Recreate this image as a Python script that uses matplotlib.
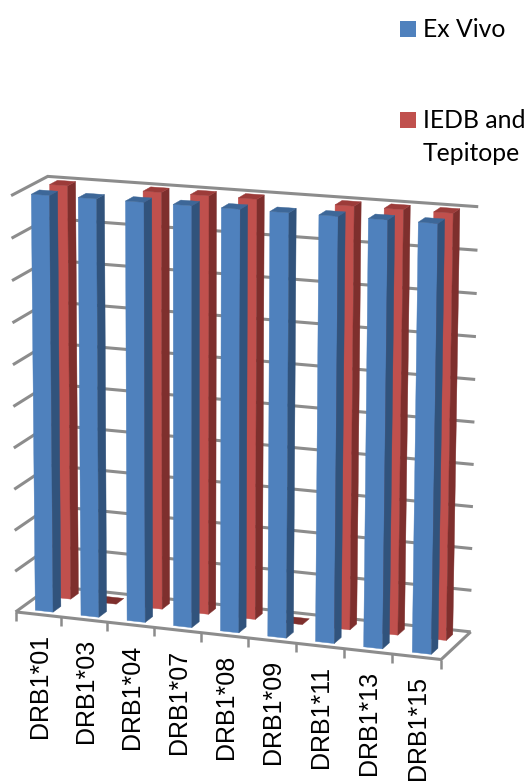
import numpy as np
import matplotlib
matplotlib.use("Agg")
import matplotlib.pyplot as plt
from matplotlib.patches import Polygon

# Chart data
categories = ["DRB1*01", "DRB1*03", "DRB1*04", "DRB1*07", "DRB1*08",
              "DRB1*09", "DRB1*11", "DRB1*13", "DRB1*15"]
ex_vivo = [100, 100, 100, 100, 100, 100, 100, 100, 100]
iedb_tepitope = [100, 0, 100, 100, 100, 0, 100, 100, 100]
value_max = 100
grid_step = 10

W, H = 526, 781
GRID = "#8c8c8c"
BLUE = ("#4F81BD", "#31537C", "#3D6798")   # front, side, top
RED = ("#C0504D", "#7E2F2D", "#9C3B39")

# Perspective camera: (category position, depth, value) -> canvas pixels,
# solved from the box corners and a few axis ticks.
anchors = [
    ((0, 0, 0), (18, 611)), ((9, 0, 0), (441, 661)),
    ((9, 1, 0), (471, 630)), ((0, 1, 0), (48, 587)),
    ((0, 0, 100), (9, 195)), ((0, 1, 100), (50, 177)),
    ((9, 1, 100), (479, 207)), ((9, 0, 100), (447, 227)),
    ((3, 0, 0), (155, 627)), ((6, 0, 0), (295, 644)),
]


def solve_camera(pairs):
    rows, rhs = [], []
    for (a, b, c), (x, y) in pairs:
        rows.append([a, b, c, 1, 0, 0, 0, 0, -x * a, -x * b, -x * c])
        rhs.append(x)
        rows.append([0, 0, 0, 0, a, b, c, 1, -y * a, -y * b, -y * c])
        rhs.append(y)
    p = np.linalg.lstsq(np.array(rows, float), np.array(rhs, float), rcond=None)[0]
    return np.append(p, 1.0).reshape(3, 4)


CAM = solve_camera(anchors)


def project(u, d, v):
    x, y, w = CAM @ np.array([u, d, v, 1.0])
    return x / w, y / w


fig = plt.figure(figsize=(W / 100, H / 100), dpi=100)
ax = fig.add_axes([0, 0, 1, 1])
ax.set_xlim(0, W)
ax.set_ylim(H, 0)
ax.axis("off")


def seg(*pts, lw=2.2):
    xs, ys = zip(*[project(*p) for p in pts])
    ax.plot(xs, ys, color=GRID, lw=lw, solid_capstyle="butt",
            solid_joinstyle="miter", zorder=1)


# Walls and floor
n = len(categories)
for v in range(0, value_max + 1, grid_step):
    seg((0, 0, v), (0, 1, v), (n, 1, v))
seg((0, 0, 0), (n, 0, 0), (n, 1, 0))
for i in range(n + 1):
    x, y = project(i, 0, 0)
    ax.plot([x, x], [y, y + 9], color=GRID, lw=1.8, solid_capstyle="butt", zorder=1)


def bar(i, value, d0, d1, colours, z):
    front, side, top = colours
    u0, u1 = i + 0.33, i + 0.72
    faces = []
    if value > 0:
        faces.append(([(u0, d0, 0), (u1, d0, 0), (u1, d0, value), (u0, d0, value)], front))
        faces.append(([(u1, d0, 0), (u1, d1, 0), (u1, d1, value), (u1, d0, value)], side))
        faces.append(([(u0, d0, value), (u1, d0, value), (u1, d1, value), (u0, d1, value)], top))
    else:
        faces.append(([(u0, d0, 0), (u1, d0, 0), (u1, d1, 0), (u0, d1, 0)], side))
    for pts, colour in faces:
        ax.add_patch(Polygon([project(*p) for p in pts], closed=True, zorder=z,
                             facecolor=colour, edgecolor=colour, lw=0.3))


for i, v in enumerate(iedb_tepitope):
    bar(i, v, 0.63, 0.85, RED, 2)
for i, v in enumerate(ex_vivo):
    bar(i, v, 0.13, 0.35, BLUE, 3)

# Category labels
for i, label in enumerate(categories):
    x, y = project(i + 0.5, 0, 0)
    ax.text(x + 1.5, y + 19.5, label, rotation=90, ha="center", va="top",
            fontsize=18, color="black", family="Liberation Sans")

# Legend
legend_rows = [(21, BLUE[0], ["Ex Vivo"]), (112, RED[0], ["IEDB and", "Tepitope"])]
for y, colour, lines in legend_rows:
    ax.add_patch(Polygon([(400, y), (416, y), (416, y + 16), (400, y + 16)],
                         closed=True, facecolor=colour, edgecolor="none"))
    for k, line in enumerate(lines):
        ax.text(423, y + 16 + 33 * k, line, ha="left", va="baseline",
                fontsize=17.8, color="black", family="Lato")

fig.savefig("out.png", dpi=100)
